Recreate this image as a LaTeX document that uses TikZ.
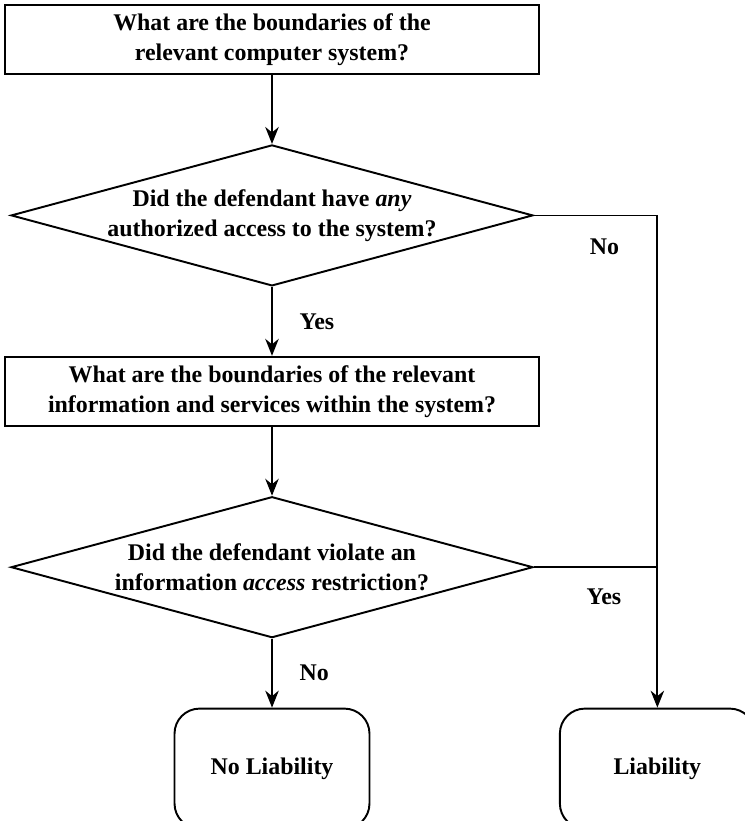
\documentclass[tikz,border=0pt]{standalone}
\usepackage{fontspec}
\setmainfont{Liberation Serif}
\usetikzlibrary{positioning,arrows.meta,shapes.geometric}

\begin{document}
\begin{tikzpicture}[x=0.02cm,y=-0.02cm,
  node distance=1.38cm,
  every node/.style={font=\fontsize{13.6}{17.2}\selectfont\bfseries},
  qbox/.style={draw,line width=1.1pt,align=center,
               minimum width=10.7cm,minimum height=1.38cm,inner sep=0pt},
  decision/.style={draw,diamond,line width=1.1pt,inner sep=0pt,
               minimum width=10.44cm,minimum height=2.82cm},
  endbox/.style={draw,rounded corners=0.5cm,line width=1.1pt,
               minimum width=3.9cm,minimum height=2.4cm},
  arr/.style={-{Stealth[length=0.34cm,width=0.27cm,inset=0.11cm]},line width=1pt}]
\useasboundingbox (0,0) rectangle (744,821);
\node[qbox] (sys) at (272,39.5) {What are the boundaries of the\\relevant computer system?};
\node[decision,below=of sys,label={[align=center]center:Did the defendant have \textit{any}\\authorized access to the system?}] (auth) {};
\node[qbox,below=of auth] (info) {What are the boundaries of the relevant\\information and services within the system?};
\node[decision,below=of info,label={[align=center]center:Did the defendant violate an\\information \textit{access} restriction?}] (viol) {};
\node[endbox,below=of viol] (noliab) {No Liability};
\node[endbox,right=3.77cm of noliab] (liab) {Liability};
\coordinate (jn1) at (auth.east -| liab.north);
\coordinate (jn2) at (viol.east -| liab.north);
\draw[arr] (sys) -- (auth);
\draw[arr] (auth) -- node[right=0.42cm]{Yes} (info);
\draw[arr] (info) -- (viol);
\draw[arr] (viol) -- node[right=0.42cm]{No} (noliab);
\draw[arr] (auth.east) -- (jn1) -- (liab.north);
\draw[line width=1pt] (viol.east) -- (jn2);
\node[below left=0.34cm and 0.64cm of jn1] (nolbl) {No};
\node[below left=0.3cm and 0.6cm of jn2] (yeslbl) {Yes};
\end{tikzpicture}
\end{document}
